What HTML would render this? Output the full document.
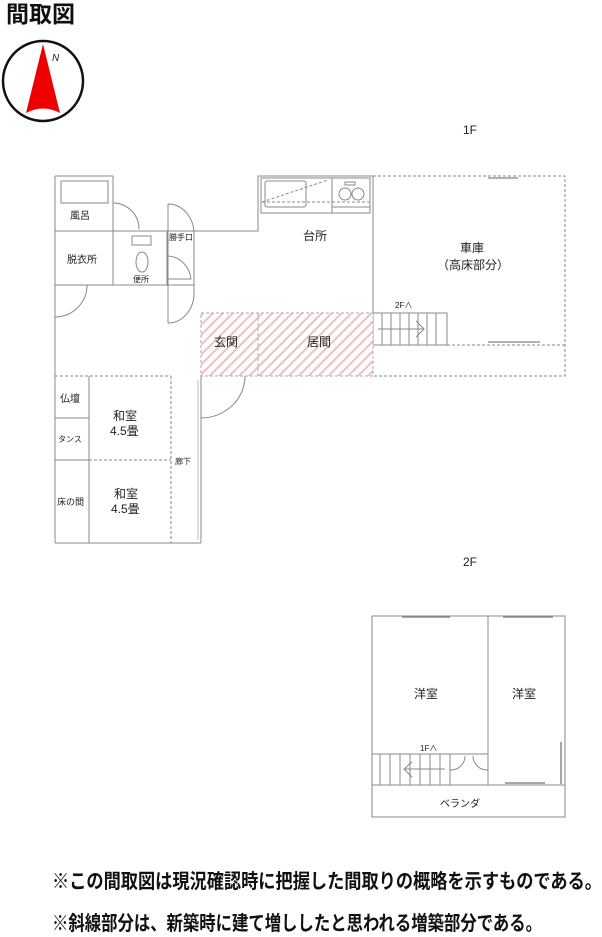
<!DOCTYPE html>
<html><head><meta charset="utf-8"><style>
html,body{margin:0;padding:0;background:#fff;}
svg{display:block;}
text{font-family:"Liberation Sans","Noto Sans CJK JP",sans-serif;fill:#222;}
</style></head><body>
<svg width="602" height="937" viewBox="0 0 602 937" xmlns="http://www.w3.org/2000/svg">
<defs>
<pattern id="h" width="7" height="7" patternUnits="userSpaceOnUse" patternTransform="rotate(45)">
<rect width="7" height="7" fill="#fff"/><rect width="2" height="7" fill="#f0c0c0"/>
</pattern>
</defs>
<text x="6" y="22" font-size="23" font-weight="bold" fill="#111" style="fill:#111">間取図</text>
<!-- compass -->
<circle cx="43" cy="81" r="40" fill="#fff" stroke="#111" stroke-width="2.5"/>
<path d="M43 44 L26 113 Q43 104 60 113 Z" fill="#e00"/>
<text x="52" y="61" font-size="10" font-style="italic">N</text>

<text x="463" y="134" font-size="12">1F</text>
<text x="463" y="566" font-size="12">2F</text>

<g fill="none" stroke="#888" stroke-width="1">
<path d="M55 176 H113 V231 H258 V176 H373 V313"/>
<line x1="55" y1="176" x2="55" y2="543"/>
<line x1="55" y1="543" x2="201" y2="543"/>
<line x1="201" y1="376" x2="201" y2="543"/>
<line x1="198" y1="380" x2="198" y2="540" stroke="#bbb"/>
<rect x="61" y="181" width="47" height="22"/>
<line x1="113" y1="176" x2="113" y2="285"/>
<line x1="55" y1="231" x2="113" y2="231"/>
<line x1="55" y1="285" x2="194" y2="285"/>
<line x1="167" y1="231" x2="167" y2="285"/>
<path d="M113 203 A26 26 0 0 1 139 229"/>
<path d="M55 317 A32 32 0 0 0 87 285"/>
<line x1="87" y1="285" x2="87" y2="288"/>
<rect x="132" y="236" width="19" height="9"/>
<ellipse cx="142" cy="262" rx="6" ry="10"/>
<path d="M168 204 V323 M168 204 A26 30 0 0 1 194 232 V285 M168 323 A26 30 0 0 0 194 295 V285"/>
<path d="M168 256 A24 26 0 0 1 191 279 H168"/>
<rect x="261" y="178" width="109" height="35"/>
<rect x="265" y="181" width="41" height="26" rx="2"/>
<line x1="262" y1="202" x2="328" y2="180" stroke-dasharray="3,2"/>
<line x1="262" y1="202" x2="370" y2="202" stroke-dasharray="3,2"/>
<line x1="332" y1="178" x2="332" y2="213"/>
<circle cx="345" cy="194" r="6"/><circle cx="358" cy="194" r="6"/>
<rect x="345" y="182" width="10" height="3"/>
<line x1="332" y1="207" x2="370" y2="207"/>
<path d="M373 176 H565 V376 H373" stroke-dasharray="3,2"/>
<line x1="447" y1="345" x2="565" y2="345" stroke-dasharray="3,2"/>
<line x1="488" y1="178" x2="518" y2="178" stroke="#999" stroke-width="1.5"/>
<line x1="488" y1="342" x2="540" y2="342" stroke="#999" stroke-width="1.5"/>
<rect x="373" y="313" width="74" height="32"/>
<line x1="382" y1="313" x2="382" y2="345"/><line x1="391" y1="313" x2="391" y2="345"/>
<line x1="400" y1="313" x2="400" y2="345"/><line x1="409" y1="313" x2="409" y2="345"/>
<line x1="418" y1="313" x2="418" y2="345"/><line x1="427" y1="313" x2="427" y2="345"/>
<line x1="436" y1="313" x2="436" y2="345"/>
<path d="M378 329 H424 M416 321 L424 329 L416 337"/>
</g>
<rect x="201" y="313" width="172" height="63" fill="url(#h)" stroke="#aaa" stroke-dasharray="3,2"/>
<line x1="258" y1="313" x2="258" y2="376" stroke="#aaa" stroke-dasharray="3,2"/>
<g fill="none" stroke="#888">
<path d="M201 418 A44 42 0 0 0 245 376"/>
<line x1="201" y1="376" x2="201" y2="418"/>
<line x1="55" y1="376" x2="171" y2="376" stroke-dasharray="3,2"/>
<line x1="89" y1="376" x2="89" y2="543"/>
<line x1="55" y1="418" x2="89" y2="418"/>
<line x1="55" y1="460" x2="89" y2="460"/>
<line x1="89" y1="460" x2="171" y2="460" stroke-dasharray="3,2"/>
<line x1="171" y1="376" x2="171" y2="543" stroke-dasharray="3,2"/>
<rect x="372" y="616" width="193" height="201"/>
<line x1="488" y1="616" x2="488" y2="785"/>
<line x1="372" y1="785" x2="565" y2="785"/>
<line x1="372" y1="754" x2="488" y2="754"/>
<line x1="402" y1="617" x2="450" y2="617" stroke-width="1.5"/>
<line x1="503" y1="617" x2="553" y2="617" stroke-width="1.5"/>
<line x1="505" y1="783" x2="545" y2="783" stroke-width="1.5"/>
<line x1="561" y1="742" x2="561" y2="784" stroke-width="1.5"/>
<line x1="380" y1="754" x2="380" y2="785"/><line x1="390" y1="754" x2="390" y2="785"/>
<line x1="400" y1="754" x2="400" y2="785"/><line x1="410" y1="754" x2="410" y2="785"/>
<line x1="420" y1="754" x2="420" y2="785"/><line x1="430" y1="754" x2="430" y2="785"/>
<line x1="440" y1="754" x2="440" y2="785"/><line x1="450" y1="754" x2="450" y2="785"/>
<path d="M445 769 H404 M412 762 L404 769 L412 777"/>
<path d="M450 770 A14 14 0 0 0 465 756"/>
<path d="M488 770 A14 14 0 0 1 473 756"/>
</g>

<g font-size="10">
<text x="70" y="219">風呂</text>
<text x="67" y="263">脱衣所</text>
<text x="133" y="282" font-size="8">便所</text>
<text x="169" y="240" font-size="8">勝手口</text>
<text x="303" y="240" font-size="12">台所</text>
<text x="460" y="252" font-size="12">車庫</text>
<text x="437" y="269" font-size="12">（高床部分）</text>
<text x="395" y="308" font-size="8">2F∧</text>
<text x="214" y="346" font-size="12">玄関</text>
<text x="307" y="346" font-size="12">居間</text>
<text x="60" y="402">仏壇</text>
<text x="58" y="442" font-size="8">タンス</text>
<text x="57" y="505" font-size="9">床の間</text>
<text x="113" y="420" font-size="12">和室</text>
<text x="110" y="435" font-size="12">4.5畳</text>
<text x="114" y="498" font-size="12">和室</text>
<text x="111" y="513" font-size="12">4.5畳</text>
<text x="175" y="464" font-size="8">廊下</text>
<text x="414" y="698" font-size="12">洋室</text>
<text x="512" y="698" font-size="12">洋室</text>
<text x="420" y="751" font-size="8">1F∧</text>
<text x="440" y="807">ベランダ</text>
</g>

<text x="52" y="888" font-size="20" font-weight="bold" textLength="550" lengthAdjust="spacingAndGlyphs" style="fill:#111">※この間取図は現況確認時に把握した間取りの概略を示すものである。</text>
<text x="52" y="930" font-size="20" font-weight="bold" textLength="490" lengthAdjust="spacingAndGlyphs" style="fill:#111">※斜線部分は、新築時に建て増ししたと思われる増築部分である。</text>
</svg>
</body></html>
